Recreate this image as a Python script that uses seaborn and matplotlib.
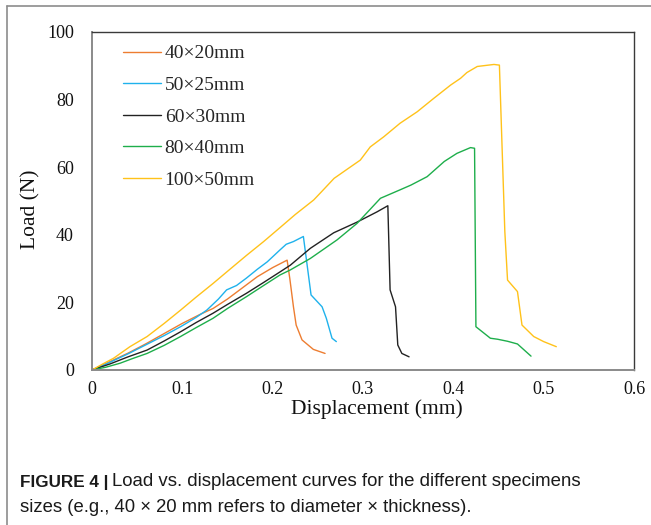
import matplotlib
matplotlib.use("Agg")
import matplotlib.pyplot as plt
from matplotlib.lines import Line2D
import seaborn as sns
import pandas as pd

sns.set_style("white")
plt.rcParams['font.family'] = ['Liberation Serif', 'DejaVu Serif']

# ---- data ----
labels = ["40×20mm", "50×25mm", "60×30mm", "80×40mm", "100×50mm"]
colors = ["#ED7D31", "#1FB2EC", "#222222", "#1EAE4B", "#FFC21A"]

x_40 = [0, 0.02, 0.04, 0.06, 0.08, 0.10, 0.12, 0.134, 0.15, 0.17, 0.183, 0.20, 0.216,
        0.219, 0.223, 0.226, 0.2325, 0.245, 0.258]
y_40 = [0, 2.5, 5.0, 7.8, 10.8, 13.8, 16.5, 18.2, 21.0, 25.0, 27.6, 30.3, 32.5,
        27.0, 18.7, 13.3, 8.9, 6.1, 4.9]

x_50 = [0, 0.02, 0.04, 0.06, 0.08, 0.098, 0.115, 0.127, 0.14, 0.149, 0.16, 0.171, 0.183,
        0.194, 0.208, 0.215, 0.223, 0.234, 0.2425, 0.2547, 0.2594, 0.2657, 0.2705]
y_50 = [0, 2.3, 4.8, 7.5, 10.2, 12.8, 15.5, 17.7, 21.0, 23.7, 25.0, 27.2, 29.8,
        32.0, 35.5, 37.2, 38.0, 39.5, 22.2, 18.7, 15.3, 9.4, 8.4]

x_60 = [0, 0.02, 0.04, 0.061, 0.08, 0.098, 0.115, 0.134, 0.15, 0.171, 0.19, 0.208, 0.2195,
        0.2417, 0.2676, 0.293, 0.3156, 0.3275, 0.330, 0.336, 0.3385, 0.343, 0.351]
y_60 = [0, 1.8, 3.9, 5.9, 8.6, 11.3, 14.0, 16.8, 19.4, 22.7, 25.9, 29.0, 31.0,
        36.0, 40.6, 43.7, 46.8, 48.6, 23.7, 18.7, 7.4, 4.9, 3.9]

x_80 = [0, 0.015, 0.031, 0.045, 0.061, 0.08, 0.098, 0.115, 0.134, 0.15, 0.171, 0.19,
        0.208, 0.2195, 0.2417, 0.2713, 0.2935, 0.3193, 0.341, 0.353, 0.371, 0.39, 0.404,
        0.419, 0.4235, 0.425, 0.441, 0.449, 0.46, 0.471, 0.486]
y_80 = [0, 0.8, 2.0, 3.4, 4.9, 7.3, 9.9, 12.5, 15.3, 18.2, 21.7, 25.0,
        28.1, 29.6, 33.0, 38.5, 43.4, 50.8, 53.3, 54.7, 57.2, 61.7, 64.1,
        65.8, 65.6, 12.8, 9.4, 9.1, 8.5, 7.7, 4.1]

x_100 = [0, 0.012, 0.024, 0.042, 0.061, 0.08, 0.098, 0.115, 0.134, 0.15, 0.171, 0.19,
         0.208, 0.225, 0.2454, 0.255, 0.268, 0.283, 0.297, 0.308, 0.323, 0.341, 0.36,
         0.378, 0.397, 0.408, 0.415, 0.4265, 0.445, 0.451, 0.457, 0.46, 0.471, 0.476,
         0.489, 0.50, 0.514]
y_100 = [0, 1.8, 3.5, 6.9, 9.9, 13.8, 17.7, 21.5, 25.6, 29.2, 33.9, 38.0,
         42.1, 46.0, 50.3, 53.0, 56.7, 59.5, 62.1, 66.0, 69.0, 73.0, 76.4,
         80.3, 84.3, 86.3, 88.0, 89.8, 90.4, 90.2, 41.0, 26.6, 23.2, 13.3,
         9.9, 8.4, 6.9]

x_ticks = [0, 0.1, 0.2, 0.3, 0.4, 0.5, 0.6]
x_ticklabels = ["0", "0.1", "0.2", "0.3", "0.4", "0.5", "0.6"]
y_ticks = [0, 20, 40, 60, 80, 100]

series_x = [x_40, x_50, x_60, x_80, x_100]
series_y = [y_40, y_50, y_60, y_80, y_100]

frames = []
for lab, xs, ys in zip(labels, series_x, series_y):
    frames.append(pd.DataFrame({"Displacement": xs, "Load": ys, "Specimen": lab}))
df = pd.concat(frames, ignore_index=True)

W, H = 651, 525
fig = plt.figure(figsize=(W / 100, H / 100), dpi=100)
fig.patch.set_facecolor("white")

L, R, T, B = 92, 634, 32, 370
ax = fig.add_axes([L / W, 1 - B / H, (R - L) / W, (B - T) / H])

sns.lineplot(data=df, x="Displacement", y="Load", hue="Specimen", hue_order=labels,
             palette=dict(zip(labels, colors)), sort=False, estimator=None,
             linewidth=1.0, ax=ax)

ax.set_xlim(0, 0.6)
ax.set_ylim(0, 100)
ax.set_xticks(x_ticks)
ax.set_xticklabels(x_ticklabels)
ax.set_yticks(y_ticks)

for side in ["left", "bottom"]:
    ax.spines[side].set_color("#8a8a8a")
    ax.spines[side].set_linewidth(1.4)
for side in ["top", "right"]:
    ax.spines[side].set_color("#3a3a3a")
    ax.spines[side].set_linewidth(1.0)

ax.tick_params(axis="both", direction="in", length=5, width=1.2, color="#8a8a8a",
               labelsize=13, labelcolor="#111111")
ax.tick_params(axis="x", pad=8)
ax.tick_params(axis="y", pad=13)
ax.tick_params(top=False, right=False)

ax.set_xlabel("Displacement (mm)", fontsize=15.5, color="#111111")
ax.set_ylabel("Load (N)", fontsize=15.5, color="#111111")
ax.xaxis.set_label_coords(0.525, -0.088)
ax.yaxis.set_label_coords(-0.095, 0.475)

leg = ax.legend(loc="upper left", bbox_to_anchor=(0.057, 0.962), frameon=False,
                borderaxespad=0, borderpad=0, handlelength=1.95, handletextpad=0.2,
                labelspacing=0.72, prop={"family": "Liberation Serif", "size": 14})
for line in leg.get_lines():
    line.set_linewidth(1.0)

# figure frame lines
fig.add_artist(Line2D([7 / W, 1], [1 - 6 / H, 1 - 6 / H], color="#8c8c8c", lw=1.2,
                      transform=fig.transFigure))
fig.add_artist(Line2D([7 / W, 7 / W], [0, 1 - 6 / H], color="#8c8c8c", lw=1.2,
                      transform=fig.transFigure))

# caption
t1 = fig.text(20 / W, 1 - 486.5 / H, "FIGURE 4 |", fontsize=12.3, fontweight="bold",
              family="Liberation Sans", color="#1a1a1a", va="baseline")
fig.canvas.draw()
bb = t1.get_window_extent()
fig.text((bb.x1 + 4) / W, 1 - 486.5 / H,
         "Load vs. displacement curves for the different specimens",
         fontsize=13.4, family="Liberation Sans", color="#1a1a1a", va="baseline")
fig.text(20 / W, 1 - 512 / H,
         "sizes (e.g., 40 × 20 mm refers to diameter × thickness).",
         fontsize=13.3, family="Liberation Sans", color="#1a1a1a", va="baseline")

fig.savefig("out.png", dpi=100, facecolor="white")
